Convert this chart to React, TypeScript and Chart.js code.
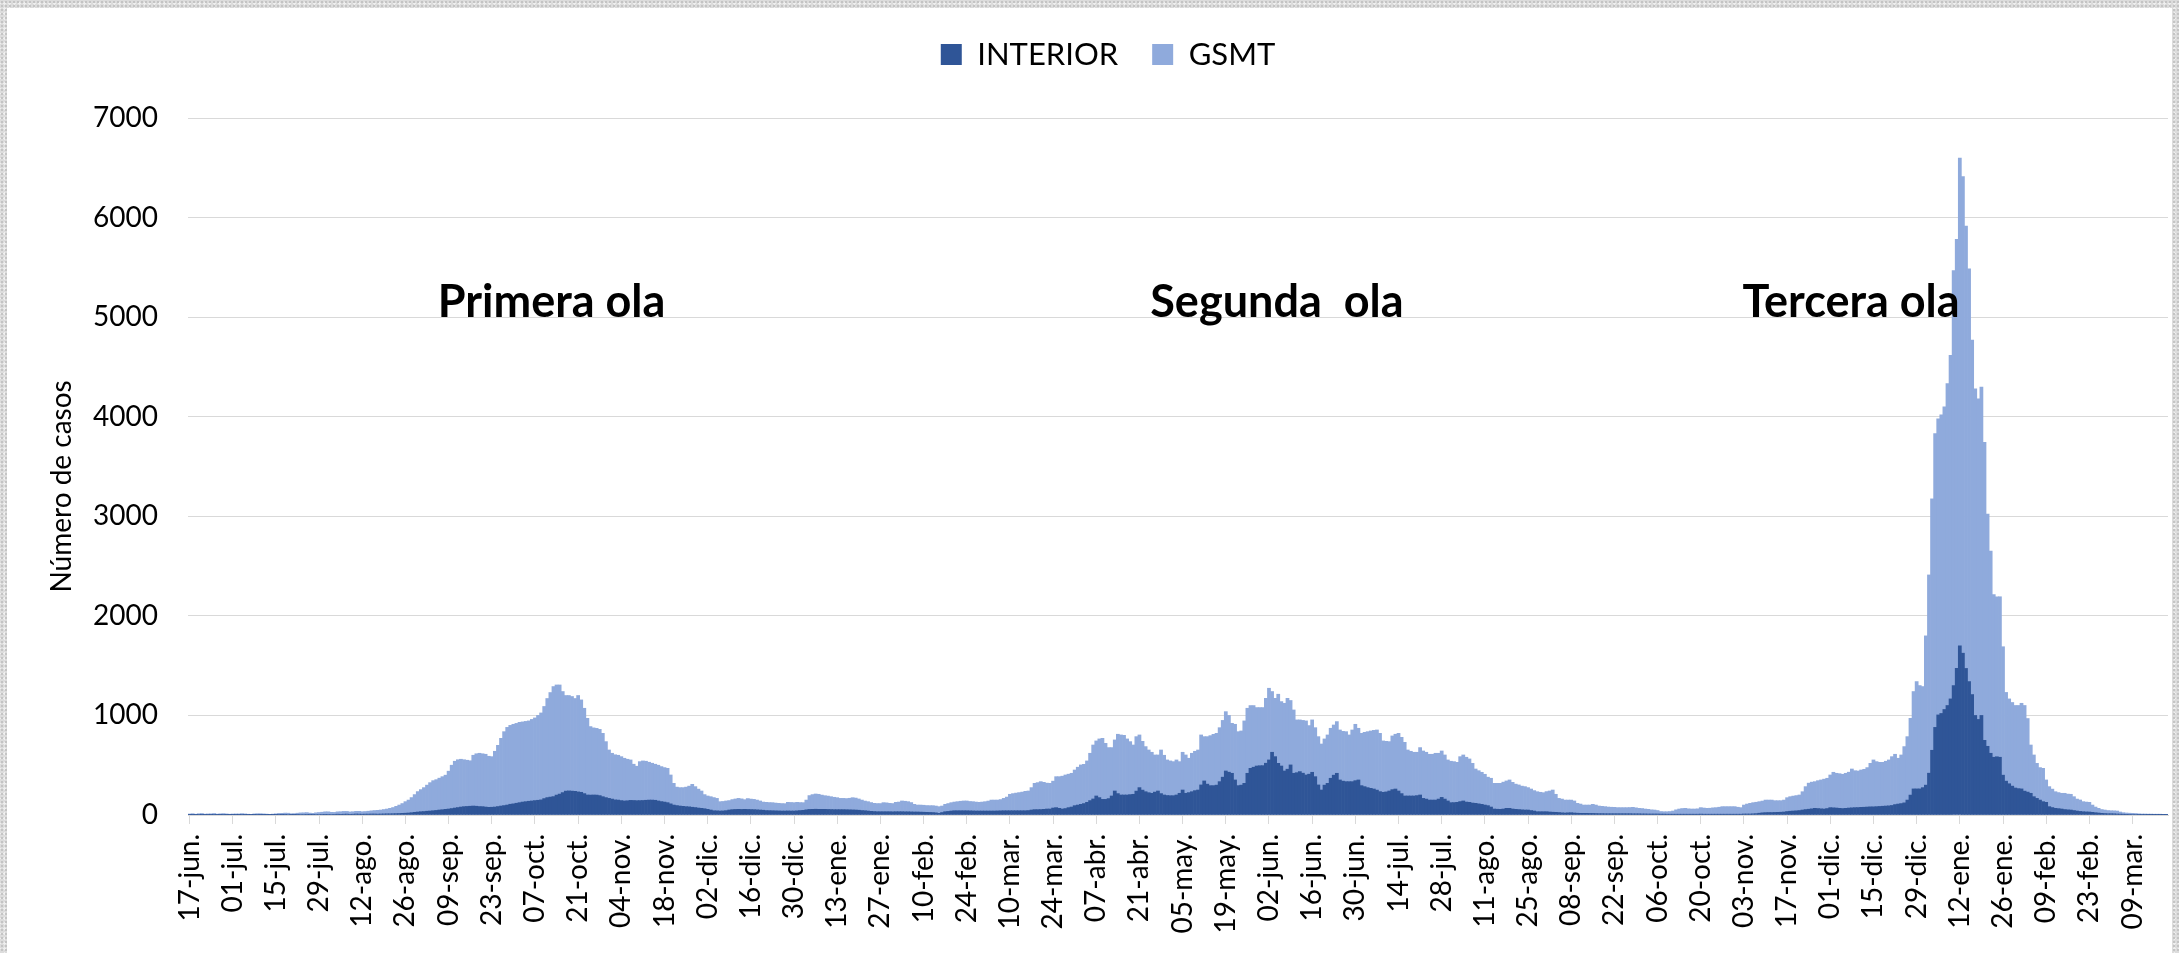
import React, { useEffect, useRef } from 'react';
import { Chart, registerables } from 'chart.js';

Chart.register(...registerables);

// ---------- data ----------
const START_YEAR = 2020;
const START_MONTH = 5; // June (0-based)
const START_DAY = 17;
const DAY_COUNT = 642;
const MONTHS = ['ene', 'feb', 'mar', 'abr', 'may', 'jun', 'jul', 'ago', 'sep', 'oct', 'nov', 'dic'];
const TICK_EVERY = 14;

const TICK_LABELS = [
  '17-jun.', '01-jul.', '15-jul.', '29-jul.', '12-ago.', '26-ago.', '09-sep.', '23-sep.', '07-oct.', '21-oct.',
  '04-nov.', '18-nov.', '02-dic.', '16-dic.', '30-dic.', '13-ene.', '27-ene.', '10-feb.', '24-feb.', '10-mar.',
  '24-mar.', '07-abr.', '21-abr.', '05-may.', '19-may.', '02-jun.', '16-jun.', '30-jun.', '14-jul.', '28-jul.',
  '11-ago.', '25-ago.', '08-sep.', '22-sep.', '06-oct.', '20-oct.', '03-nov.', '17-nov.', '01-dic.', '15-dic.',
  '29-dic.', '12-ene.', '26-ene.', '09-feb.', '23-feb.', '09-mar.',
];

const INTERIOR = [
  2, 3, 2, 4, 3, 2, 3, 3, 4, 2, 3, 4, 3, 2,
  3, 2, 3, 4, 3, 2, 2, 3, 4, 3, 3, 2, 2, 3,
  3, 4, 3, 4, 5, 3, 3, 4, 5, 5, 6, 4, 4, 5,
  5, 6, 7, 6, 5, 6, 8, 7, 8, 9, 7, 8, 10, 9,
  8, 9, 9, 10, 10, 9, 10, 11, 12, 12, 13, 14, 15, 17,
  18, 20, 23, 27, 30, 33, 35, 38, 40, 43, 46, 50, 53, 57,
  60, 65, 70, 75, 80, 84, 86, 88, 90, 88, 85, 84, 80, 77,
  78, 80, 85, 90, 95, 100, 108, 112, 118, 124, 130, 134, 138, 141,
  145, 148, 152, 165, 175, 180, 185, 200, 210, 225, 240, 242, 240, 238,
  232, 228, 215, 201, 200, 201, 200, 195, 184, 175, 167, 160, 152, 150,
  145, 141, 143, 147, 146, 144, 145, 146, 148, 150, 150, 148, 141, 135,
  130, 124, 112, 100, 95, 90, 87, 84, 82, 78, 75, 70, 67, 63,
  57, 50, 43, 42, 40, 41, 44, 50, 54, 56, 57, 56, 57, 56,
  55, 54, 52, 50, 48, 45, 44, 43, 42, 41, 40, 40, 41, 40,
  40, 42, 45, 47, 52, 56, 57, 58, 57, 57, 57, 56, 55, 54,
  54, 54, 54, 53, 52, 51, 50, 48, 45, 43, 40, 37, 35, 33,
  33, 33, 33, 33, 32, 33, 33, 33, 32, 32, 31, 30, 30, 29,
  28, 27, 26, 25, 22, 17, 25, 33, 36, 40, 43, 43, 43, 43,
  43, 42, 41, 40, 40, 40, 40, 40, 40, 40, 41, 42, 43, 43,
  43, 43, 43, 43, 43, 43, 45, 50, 54, 54, 55, 57, 60, 60,
  70, 74, 67, 60, 65, 74, 80, 94, 100, 107, 115, 127, 145, 161,
  191, 175, 157, 157, 165, 191, 241, 215, 201, 201, 201, 205, 208, 240,
  275, 250, 234, 224, 218, 230, 241, 215, 201, 196, 194, 194, 201, 218,
  251, 218, 225, 234, 245, 251, 302, 342, 310, 295, 295, 300, 335, 380,
  442, 430, 419, 352, 295, 300, 318, 419, 469, 480, 492, 495, 496, 520,
  553, 630, 586, 519, 492, 442, 460, 503, 419, 425, 436, 420, 402, 410,
  429, 385, 302, 251, 300, 318, 369, 400, 419, 352, 340, 335, 335, 335,
  345, 352, 295, 285, 275, 268, 261, 250, 235, 228, 232, 241, 255, 261,
  241, 215, 191, 191, 191, 191, 195, 201, 167, 160, 150, 150, 150, 160,
  177, 160, 141, 124, 125, 127, 135, 141, 130, 127, 120, 117, 112, 107,
  100, 94, 80, 60, 58, 57, 60, 67, 67, 60, 57, 55, 52, 50,
  50, 45, 40, 33, 33, 33, 33, 30, 28, 27, 25, 22, 20, 22,
  23, 20, 18, 17, 17, 17, 16, 16, 15, 14, 14, 13, 13, 13,
  13, 13, 13, 13, 13, 13, 12, 12, 12, 11, 11, 10, 10, 10,
  10, 9, 9, 8, 8, 8, 8, 8, 8, 8, 8, 8, 8, 8,
  9, 8, 8, 8, 8, 8, 8, 8, 8, 8, 8, 8, 8, 8,
  10, 10, 10, 12, 14, 18, 22, 24, 25, 25, 26, 27, 28, 30,
  35, 38, 40, 42, 45, 50, 55, 58, 62, 67, 65, 62, 60, 65,
  74, 72, 70, 67, 65, 67, 70, 72, 74, 75, 77, 78, 80, 82,
  82, 84, 86, 88, 90, 92, 96, 105, 110, 115, 122, 150, 200, 262,
  262, 262, 275, 300, 420, 650, 880, 1005, 1020, 1060, 1100, 1166, 1300, 1472,
  1700, 1625, 1472, 1340, 1210, 1000, 960, 1000, 750, 690, 620, 580, 585, 580,
  400, 340, 314, 290, 271, 265, 262, 240, 230, 218, 184, 167, 150, 134,
  127, 84, 75, 67, 64, 60, 55, 52, 50, 45, 40, 36, 33, 31,
  30, 27, 23, 20, 17, 15, 13, 13, 12, 10, 9, 8, 7, 6,
  5, 5, 4, 4, 4, 3, 3, 3, 3, 3, 3, 3,
];

const GSMT = [
  8, 10, 6, 9, 12, 7, 8, 9, 11, 7, 9, 10, 8, 6,
  7, 9, 8, 10, 8, 6, 5, 8, 9, 10, 8, 7, 5, 6,
  9, 12, 14, 15, 13, 10, 11, 14, 16, 17, 18, 15, 13, 17,
  20, 22, 25, 26, 22, 20, 24, 26, 28, 27, 24, 25, 27, 28,
  25, 26, 29, 32, 35, 38, 40, 44, 48, 55, 62, 73, 85, 98,
  116, 130, 152, 178, 205, 222, 240, 262, 285, 302, 309, 320, 332, 343,
  380, 435, 470, 480, 480, 471, 464, 457, 510, 527, 535, 531, 530, 513,
  508, 560, 615, 680, 742, 780, 792, 799, 802, 807, 805, 806, 807, 819,
  830, 852, 873, 925, 995, 1050, 1105, 1106, 1096, 1015, 960, 958, 950, 932,
  968, 928, 857, 770, 688, 674, 670, 665, 636, 562, 486, 460, 453, 450,
  441, 429, 417, 406, 364, 346, 391, 397, 392, 380, 370, 362, 359, 351,
  346, 345, 290, 218, 185, 185, 188, 196, 208, 230, 210, 190, 174, 142,
  134, 134, 132, 125, 94, 95, 97, 95, 101, 105, 110, 106, 97, 109,
  105, 103, 98, 91, 82, 82, 81, 81, 78, 76, 75, 74, 86, 86,
  84, 85, 80, 77, 98, 139, 148, 153, 151, 143, 137, 134, 129, 124,
  120, 113, 113, 112, 116, 123, 120, 113, 105, 97, 94, 88, 82, 82,
  82, 91, 89, 84, 83, 94, 97, 108, 106, 102, 94, 77, 70, 71,
  70, 68, 68, 69, 68, 67, 65, 74, 79, 84, 87, 91, 95, 98,
  98, 94, 93, 90, 87, 90, 94, 100, 110, 110, 109, 113, 124, 137,
  165, 172, 177, 182, 187, 195, 196, 225, 264, 271, 280, 271, 260, 258,
  270, 311, 318, 330, 337, 336, 339, 358, 380, 396, 394, 416, 475, 542,
  553, 589, 613, 563, 512, 486, 513, 596, 603, 599, 563, 532, 495, 547,
  529, 490, 453, 429, 412, 373, 362, 438, 399, 357, 349, 342, 352, 318,
  379, 385, 345, 386, 395, 402, 502, 445, 477, 502, 515, 520, 542, 570,
  596, 570, 502, 559, 542, 544, 627, 653, 630, 619, 587, 584, 583, 652,
  720, 610, 586, 694, 647, 680, 712, 647, 636, 530, 519, 530, 543, 488,
  526, 492, 485, 462, 464, 486, 502, 504, 519, 502, 500, 502, 469, 519,
  566, 519, 525, 545, 562, 576, 589, 604, 585, 516, 508, 496, 539, 550,
  579, 565, 539, 462, 449, 439, 435, 476, 476, 470, 460, 460, 470, 460,
  466, 443, 412, 416, 411, 402, 451, 462, 450, 436, 399, 345, 333, 322,
  309, 286, 289, 258, 260, 261, 270, 275, 285, 268, 253, 247, 238, 235,
  225, 216, 205, 201, 195, 191, 202, 211, 223, 181, 142, 138, 130, 128,
  127, 121, 99, 93, 83, 83, 84, 91, 85, 76, 73, 71, 67, 65,
  64, 61, 61, 61, 61, 62, 65, 60, 55, 54, 49, 47, 42, 40,
  35, 26, 24, 25, 27, 32, 44, 52, 57, 59, 54, 52, 52, 54,
  65, 62, 59, 60, 64, 66, 70, 76, 76, 76, 76, 76, 70, 66,
  90, 100, 107, 112, 114, 116, 118, 126, 125, 125, 118, 117, 116, 120,
  139, 146, 150, 153, 156, 184, 230, 262, 268, 268, 280, 290, 300, 304,
  328, 357, 349, 348, 344, 352, 360, 390, 371, 367, 375, 381, 396, 437,
  471, 452, 443, 441, 450, 461, 490, 505, 460, 488, 565, 637, 771, 978,
  1078, 1038, 1015, 1499, 1991, 2525, 2950, 2975, 2998, 3040, 3232, 3450, 4168, 4310,
  4898, 4786, 4443, 4144, 3559, 3280, 3219, 3297, 2993, 2332, 2031, 1634, 1607, 1612,
  1290, 891, 852, 840, 829, 835, 860, 860, 739, 485, 419, 352, 326, 335,
  225, 201, 185, 167, 161, 158, 163, 158, 158, 139, 120, 115, 101, 99,
  97, 73, 57, 47, 38, 35, 32, 30, 30, 30, 21, 15, 13, 12,
  12, 10, 8, 6, 6, 6, 6, 5, 5, 5, 4, 4,
];

const WAVE_LABELS = ['Primera ola', 'Segunda  ola', 'Tercera ola'];
const WAVE_DAY = [81, 312, 504];
const WAVE_VALUE = [5000, 5000, 5000];

const Y_TITLE = 'Número de casos';
const SERIES_NAMES = ['INTERIOR', 'GSMT'];

// daily category labels (dd-mmm.)
const CATEGORIES: string[] = [];
for (let i = 0; i < DAY_COUNT; i++) {
  const d = new Date(Date.UTC(START_YEAR, START_MONTH, START_DAY + i));
  const dd = String(d.getUTCDate()).padStart(2, '0');
  CATEGORIES.push(`${dd}-${MONTHS[d.getUTCMonth()]}.`);
}

// ---------- styles ----------
const FONT = 'Lato';
const DARK = '#2F5597';
const LIGHT = '#8FAADC';
const GRID = '#D9D9D9';

const overlayPlugin = {
  id: 'overlayText',
  afterDatasetsDraw(chart: any) {
    const { ctx, scales } = chart;
    const x = scales.x;
    const y = scales.y;
    const half = (x.getPixelForValue(1) - x.getPixelForValue(0)) / 2;
    ctx.save();
    ctx.fillStyle = '#000';
    ctx.font = `bold 45px ${FONT}`;
    ctx.textAlign = 'left';
    ctx.textBaseline = 'alphabetic';
    WAVE_LABELS.forEach((t, i) => {
      ctx.fillText(t, x.getPixelForValue(WAVE_DAY[i]) - half, y.getPixelForValue(WAVE_VALUE[i]));
    });
    // y-axis title
    ctx.font = `28px ${FONT}`;
    ctx.textAlign = 'center';
    ctx.textBaseline = 'middle';
    ctx.translate(chart.chartArea.left - 126, y.getPixelForValue(3300));
    ctx.rotate(-Math.PI / 2);
    ctx.fillText(Y_TITLE, 0, 0);
    ctx.restore();
  },
};

export default function App() {
  const ref = useRef<HTMLCanvasElement>(null);

  useEffect(() => {
    document.body.style.margin = '0';
    document.body.style.overflow = 'hidden';
    Chart.defaults.font.family = FONT;
    Chart.defaults.color = '#000';
    const canvas = ref.current;
    if (!canvas) return;
    const chart = new Chart(canvas, {
      type: 'bar',
      data: {
        labels: CATEGORIES,
        datasets: [
          {
            label: SERIES_NAMES[0],
            data: INTERIOR,
            backgroundColor: DARK,
            borderWidth: 0,
            barPercentage: 1,
            categoryPercentage: 1,
            stack: 's',
          },
          {
            label: SERIES_NAMES[1],
            data: GSMT,
            backgroundColor: LIGHT,
            borderWidth: 0,
            barPercentage: 1,
            categoryPercentage: 1,
            stack: 's',
          },
        ],
      },
      options: {
        responsive: false,
        animation: false,
        devicePixelRatio: 1,
        layout: { padding: { top: 5, left: 48, right: 11, bottom: 0 } },
        plugins: {
          legend: {
            position: 'top',
            labels: {
              boxWidth: 21,
              boxHeight: 21,
              padding: 34,
              color: '#000',
              font: { size: 31, family: FONT },
            },
          },
          subtitle: {
            display: true,
            text: '',
            weight: 500,
            padding: { top: 26, bottom: 0 },
            font: { size: 10, lineHeight: 1.2 },
          } as any,
          tooltip: { enabled: false },
        },
        scales: {
          x: {
            stacked: true,
            offset: true,
            grid: {
              display: true,
              drawOnChartArea: false,
              drawTicks: true,
              tickLength: 9,
              color: GRID,
              offset: false,
            },
            border: { display: true, color: GRID, width: 1 },
            ticks: {
              autoSkip: false,
              minRotation: 90,
              maxRotation: 90,
              padding: 10,
              color: '#000',
              font: { size: 28, family: FONT },
              callback: (_v: any, i: number) => TICK_LABELS[i],
            },
            afterBuildTicks: (s: any) => {
              s.ticks = s.ticks.filter((t: any) => t.value % TICK_EVERY === 0);
            },
            afterFit: (s: any) => {
              s.height = 138;
            },
          },
          y: {
            stacked: true,
            min: 0,
            max: 7000,
            ticks: {
              stepSize: 1000,
              padding: 30,
              color: '#000',
              font: { size: 28, family: FONT },
              callback: (v: any) => String(v),
            },
            grid: { color: GRID, drawTicks: false, lineWidth: 1 },
            border: { display: false },
            afterFit: (s: any) => {
              s.width = 140;
            },
          },
        },
      } as any,
      plugins: [overlayPlugin],
    });
    return () => chart.destroy();
  }, []);

  return (
    <div
      style={{
        position: 'relative',
        width: 2179,
        height: 953,
        backgroundColor: '#dcdcdc',
        backgroundImage:
          'radial-gradient(#c4c4c4 1px, transparent 1.2px), radial-gradient(#efefef 1px, transparent 1.2px)',
        backgroundSize: '4px 4px, 5px 5px',
        backgroundPosition: '0 0, 2px 1px',
        overflow: 'hidden',
      }}
    >
      <div style={{ position: 'absolute', left: 7, top: 8, right: 7, bottom: 0, background: '#fff' }} />
      <canvas
        ref={ref}
        width={2179}
        height={953}
        style={{ position: 'absolute', left: 0, top: 0, width: 2179, height: 953 }}
      />
    </div>
  );
}
